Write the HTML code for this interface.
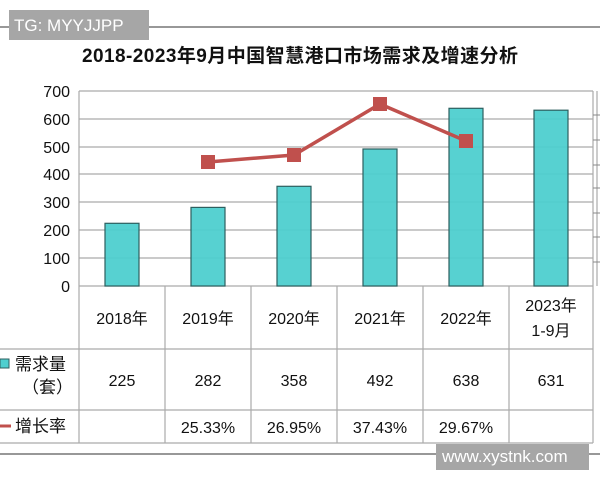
<!DOCTYPE html>
<html><head><meta charset="utf-8"><style>
body{margin:0;background:#fff;width:600px;height:480px;overflow:hidden}
svg text{font-family:"Liberation Sans","Noto Sans CJK SC",sans-serif;fill:#111}
</style></head><body>
<svg width="600" height="480" viewBox="0 0 600 480">
<line x1="0" y1="27" x2="600" y2="27" stroke="#777" stroke-width="1.5"/>
<line x1="0" y1="454" x2="600" y2="454" stroke="#777" stroke-width="1.5"/>
<text x="300" y="62" font-size="19" font-weight="bold" text-anchor="middle" textLength="436">2018-2023年9月中国智慧港口市场需求及增速分析</text>
<g stroke="#aaa" stroke-width="1.2">
<line x1="79" y1="91" x2="593" y2="91"/>
<line x1="79" y1="119" x2="593" y2="119"/>
<line x1="79" y1="147" x2="593" y2="147"/>
<line x1="79" y1="174" x2="593" y2="174"/>
<line x1="79" y1="202" x2="593" y2="202"/>
<line x1="79" y1="230" x2="593" y2="230"/>
<line x1="79" y1="258" x2="593" y2="258"/>
<line x1="79" y1="286" x2="593" y2="286"/>
<line x1="79" y1="91" x2="79" y2="443"/>
<line x1="593" y1="91" x2="593" y2="443"/>
<line x1="597" y1="91" x2="597" y2="286"/>
<line x1="165" y1="286" x2="165" y2="443"/>
<line x1="251" y1="286" x2="251" y2="443"/>
<line x1="337" y1="286" x2="337" y2="443"/>
<line x1="423" y1="286" x2="423" y2="443"/>
<line x1="509" y1="286" x2="509" y2="443"/>
<line x1="0" y1="349" x2="593" y2="349"/>
<line x1="0" y1="410" x2="593" y2="410"/>
<line x1="0" y1="443" x2="593" y2="443"/>
</g>
<g stroke="#888" stroke-width="1">
<line x1="593" y1="115" x2="600" y2="115"/><line x1="593" y1="140" x2="600" y2="140"/>
<line x1="593" y1="165" x2="600" y2="165"/><line x1="593" y1="188" x2="600" y2="188"/>
<line x1="593" y1="213" x2="600" y2="213"/><line x1="593" y1="237" x2="600" y2="237"/>
<line x1="593" y1="262" x2="600" y2="262"/>
</g>
<g font-size="16" text-anchor="end">
<text x="70" y="97">700</text><text x="70" y="125">600</text><text x="70" y="153">500</text>
<text x="70" y="180">400</text><text x="70" y="208">300</text><text x="70" y="236">200</text>
<text x="70" y="264">100</text><text x="70" y="292">0</text>
</g>
<g fill="#4ecfcf" fill-opacity="0.95" stroke="#2d5f5f" stroke-width="1.2">
<rect x="105" y="223.3" width="34" height="62.7"/>
<rect x="191" y="207.4" width="34" height="78.6"/>
<rect x="277" y="186.3" width="34" height="99.7"/>
<rect x="363" y="149" width="34" height="137"/>
<rect x="449" y="108.3" width="34" height="177.7"/>
<rect x="534" y="110.2" width="34" height="175.8"/>
</g>
<polyline points="208,162 294,155 380,104 466,141" fill="none" stroke="#c0504d" stroke-width="3.5"/>
<g fill="#c0504d">
<rect x="201" y="155" width="14" height="14"/><rect x="287" y="148" width="14" height="14"/>
<rect x="373" y="97" width="14" height="14"/><rect x="459" y="134" width="14" height="14"/>
</g>
<g font-size="16" text-anchor="middle">
<text x="122" y="324">2018年</text><text x="208" y="324">2019年</text><text x="294" y="324">2020年</text>
<text x="380" y="324">2021年</text><text x="466" y="324">2022年</text>
<text x="551" y="311">2023年</text><text x="551" y="336">1-9月</text>
<text x="122" y="386">225</text><text x="208" y="386">282</text><text x="294" y="386">358</text>
<text x="380" y="386">492</text><text x="466" y="386">638</text><text x="551" y="386">631</text>
<text x="208" y="433">25.33%</text><text x="294" y="433">26.95%</text>
<text x="380" y="433">37.43%</text><text x="466" y="433">29.67%</text>
</g>
<rect x="0" y="359" width="9" height="9" fill="#4ecfcf" stroke="#2d5f5f"/>
<text x="15" y="370" font-size="17">需求量</text>
<text x="22" y="393" font-size="17">（套）</text>
<line x1="0" y1="426" x2="11" y2="426" stroke="#c0504d" stroke-width="3"/>
<text x="15" y="432" font-size="17">增长率</text>
<rect x="9" y="10" width="140" height="30" fill="#a6a6a6"/>
<text x="14" y="31" font-size="17" style="fill:#fff">TG: MYYJJPP</text>
<rect x="436" y="444" width="153" height="26" fill="#a6a6a6"/>
<text x="442" y="462" font-size="17" style="fill:#fff">www.xystnk.com</text>
</svg>
</body></html>
